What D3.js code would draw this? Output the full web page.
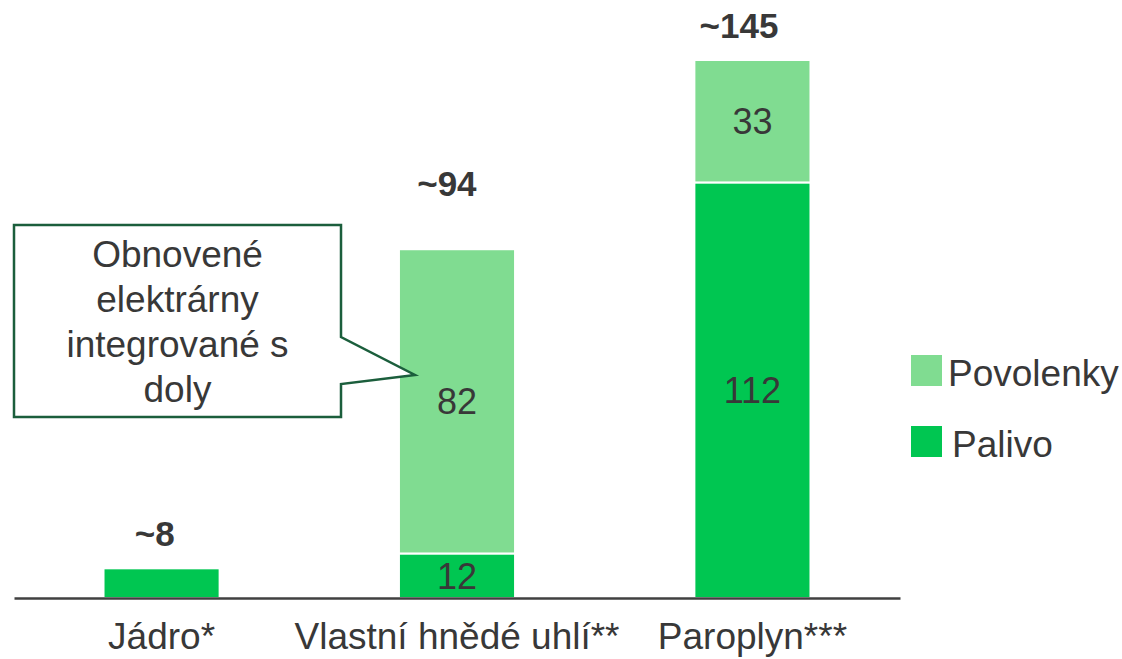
<!DOCTYPE html>
<html>
<head>
<meta charset="utf-8">
<script src="https://cdn.jsdelivr.net/npm/d3@7"></script>
<style>
body{margin:0;background:#fff;}
text{font-family:"Liberation Sans",Arial,sans-serif;fill:#383838;}
</style>
</head>
<body>
<svg id="chart" width="1122" height="659"></svg>
<script>
var categories=["Jádro*","Vlastní hnědé uhlí**","Paroplyn***"];
var palivo=[8,12,112];
var povolenky=[0,82,33];
var totals=["~8","~94","~145"];
var seriesNames=["Povolenky","Palivo"];
var calloutLines=["Obnovené","elektrárny","integrované s","doly"];

var colors={Palivo:"#00c651",Povolenky:"#80dc91"};
var w=1122,h=659;
var svg=d3.select("#chart");

var xScale=d3.scaleBand()
             .domain(categories)
             .range([14,900])
             .paddingInner(0.607)
             .paddingOuter(0.303);
var yScale=d3.scaleLinear()
             .domain([0,145])
             .range([598,60]);

var rows=categories.map(function(c,i){return {cat:c,Palivo:palivo[i],Povolenky:povolenky[i]};});
var stack=d3.stack().keys(["Palivo","Povolenky"])(rows);

var layer=svg.selectAll("g.layer")
   .data(stack)
   .enter().append("g")
   .attr("fill",function(d){return colors[d.key];});
layer.selectAll("rect")
   .data(function(d){return d;})
   .enter().append("rect")
   .filter(function(d){return d[1]>d[0];})
   .attr("x",function(d){return xScale(d.data.cat);})
   .attr("y",function(d){return yScale(d[1]);})
   .attr("width",xScale.bandwidth())
   .attr("height",function(d){return yScale(d[0])-yScale(d[1]);})
   .attr("stroke","#fff")
   .attr("stroke-width",2);

// segment labels (not on the small nuclear bar)
stack.forEach(function(s){
  s.forEach(function(d,i){
    var v=d[1]-d[0];
    if(v<10) return;
    svg.append("text")
       .attr("x",xScale(d.data.cat)+xScale.bandwidth()/2)
       .attr("y",(yScale(d[0])+yScale(d[1]))/2)
       .attr("dy","0.36em")
       .attr("text-anchor","middle")
       .style("font-size","36px")
       .text(v);
  });
});

// totals
totals.forEach(function(t,i){
  var top=yScale(palivo[i]+povolenky[i]);
  var lift=(i==1)?53:22;
  var txt=svg.append("text")
     .attr("y",top-lift)
     .attr("text-anchor","middle")
     .style("font-size","35px")
     .style("font-weight","bold")
     .text(t);
  var len=txt.node().getComputedTextLength();
  txt.attr("x",xScale(categories[i])+xScale.bandwidth()/2-len*0.17);
});

// axis
var xAxis=d3.axisBottom(xScale).tickSize(0).tickPadding(25);
var ax=svg.append("g")
   .attr("transform","translate(0,598)")
   .call(xAxis);
ax.select(".domain").attr("stroke","#404040").attr("stroke-width",2.5);
ax.selectAll("text")
   .style("font-size","37px")
   .style("font-family","'Liberation Sans',Arial,sans-serif")
   .attr("fill","#383838");

// legend
var legend=svg.append("g").attr("transform","translate(911,355)");
seriesNames.forEach(function(n,i){
  var g=legend.append("g").attr("transform","translate(0,"+(i*71)+")");
  g.append("rect").attr("width",31).attr("height",31).attr("fill",colors[n]);
  g.append("text").attr("x",i==0?37:41).attr("y",31).style("font-size","37px").text(n);
});

// callout
var bx=14,by=225,bw=327,bh=192;
var tipX=xScale(categories[1])+16,tipY=375;
var path=d3.path();
path.moveTo(bx,by);
path.lineTo(bx+bw,by);
path.lineTo(bx+bw,337);
path.lineTo(tipX,tipY);
path.lineTo(bx+bw,384);
path.lineTo(bx+bw,by+bh);
path.lineTo(bx,by+bh);
path.closePath();
svg.append("path")
   .attr("d",path.toString())
   .attr("fill","#fff")
   .attr("stroke","#1b5e3c")
   .attr("stroke-width",2.5);
calloutLines.forEach(function(l,i){
  svg.append("text")
     .attr("x",bx+bw/2)
     .attr("y",267+i*45)
     .attr("text-anchor","middle")
     .style("font-size","37px")
     .text(l);
});
</script>
</body>
</html>
